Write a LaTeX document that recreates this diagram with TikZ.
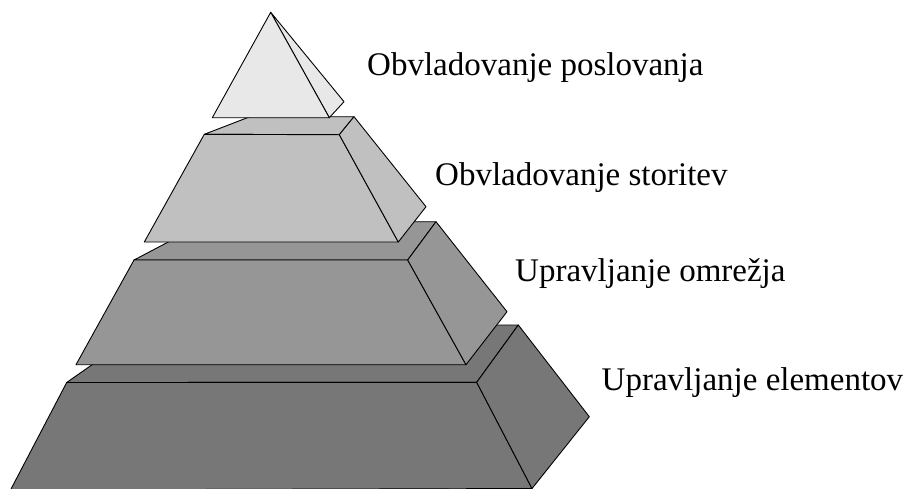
\documentclass[tikz,border=0pt]{standalone}
\usepackage{fontspec}
\setmainfont{Liberation Serif}
\usepackage{tikz}
\definecolor{lvlone}{RGB}{232,232,232}
\definecolor{lvltwo}{RGB}{192,192,192}
\definecolor{lvlthree}{RGB}{150,150,150}
\definecolor{lvlfour}{RGB}{119,119,119}

\begin{document}
\begin{tikzpicture}[x=1pt,y=-1pt,
    face/.style={draw=black,line width=.9pt,line join=round},
    levellabel/.style={anchor=base west,inner sep=0pt,font=\fontsize{33}{40}\selectfont}]
  \clip (0,0) rectangle (912,488);
  % bottom block
  \filldraw [face,fill=lvlfour] (66.7,382.5) -- (148.8,325) -- (518.3,325) -- (476.7,382.3) -- cycle;
  \filldraw [face,fill=lvlfour] (66.7,382.5) -- (476.7,382.3) -- (532,488.5) -- (10.5,490) -- cycle;
  \filldraw [face,fill=lvlfour] (476.7,382.3) -- (518.3,325) -- (589.3,416.7) -- (532,488.5) -- cycle;
  % third block
  \filldraw [face,fill=lvlthree] (134,260) -- (206.9,221.7) -- (436,221.7) -- (407.7,260) -- cycle;
  \filldraw [face,fill=lvlthree] (134,260) -- (407.7,260) -- (466,364.7) -- (76,364.7) -- cycle;
  \filldraw [face,fill=lvlthree] (407.7,260) -- (436,221.7) -- (507,311.7) -- (466,364.7) -- cycle;
  % second block
  \filldraw [face,fill=lvltwo] (204.3,134.3) -- (250,116.7) -- (354,116.7) -- (339.3,134.7) -- cycle;
  \filldraw [face,fill=lvltwo] (204.3,134.3) -- (339.3,134.7) -- (398.3,242) -- (144.3,242) -- cycle;
  \filldraw [face,fill=lvltwo] (339.3,134.7) -- (354,116.7) -- (426,206.7) -- (398.3,242) -- cycle;
  % tip
  \filldraw [face,fill=lvlone] (270.7,12.3) -- (329.3,117.7) -- (344,101.7) -- cycle;
  \filldraw [face,fill=lvlone] (270.7,12.3) -- (212.3,117.7) -- (329.3,117.7) -- cycle;
  % labels
  \node [levellabel] (poslovanje) at (367,75) {Obvladovanje poslovanja};
  \node [levellabel] (storitve) at (435,185) {Obvladovanje storitev};
  \node [levellabel] (omrezje) at (515,281.5) {Upravljanje omrežja};
  \node [levellabel] (elementi) at (601.5,390) {Upravljanje elementov};
\end{tikzpicture}
\end{document}
